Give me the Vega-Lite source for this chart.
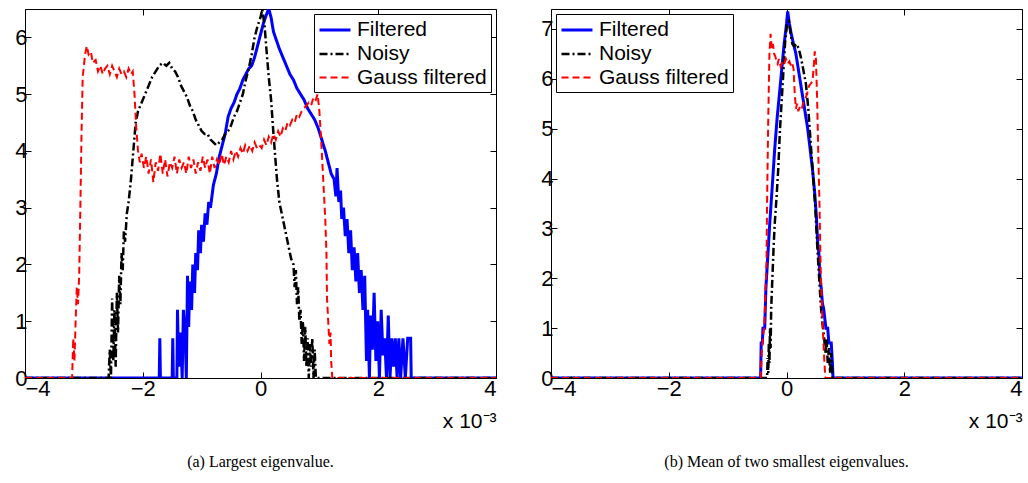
{
"$schema": "https://vega.github.io/schema/vega-lite/v6.json",
"background": "white",
"padding": {"left": 14, "top": 5, "right": 3, "bottom": 3},
"config": {
  "font": "Liberation Sans",
  "view": {"stroke": "black", "strokeWidth": 1},
  "axis": {"labelFont": "Liberation Sans", "labelFontSize": 22, "labelColor": "black", "tickColor": "black", "tickSize": -6, "domain": false, "grid": false, "titleFont": "Liberation Sans", "titleFontSize": 21, "titleFontWeight": "normal", "titleColor": "black"},
  "legend": {"labelFont": "Liberation Sans", "labelFontSize": 21, "labelColor": "black", "strokeColor": "black", "fillColor": "white", "padding": 4, "rowPadding": 2, "symbolType": "M-1,0H1.95", "symbolSize": 441, "symbolStrokeWidth": 2, "labelOffset": 15, "offset": 5, "title": null},
  "title": {"font": "Liberation Serif", "fontSize": 16, "fontWeight": "normal", "color": "black", "orient": "bottom", "offset": 23}
},
"datasets": {
"a": [
{"s":"Filtered","x":-4,"y":0},{"s":"Filtered","x":-1.72,"y":0},{"s":"Filtered","x":-1.71,"y":0.7},{"s":"Filtered","x":-1.7,"y":0},{"s":"Filtered","x":-1.5,"y":0},{"s":"Filtered","x":-1.49,"y":0.7},{"s":"Filtered","x":-1.48,"y":0},{"s":"Filtered","x":-1.42,"y":0},{"s":"Filtered","x":-1.41,"y":1.2},{"s":"Filtered","x":-1.39,"y":0.2},{"s":"Filtered","x":-1.36,"y":0.8},{"s":"Filtered","x":-1.33,"y":0},{"s":"Filtered","x":-1.31,"y":1.2},{"s":"Filtered","x":-1.28,"y":0.8},{"s":"Filtered","x":-1.26,"y":0},{"s":"Filtered","x":-1.24,"y":1.8},{"s":"Filtered","x":-1.22,"y":0.9},{"s":"Filtered","x":-1.2,"y":1.7},{"s":"Filtered","x":-1.17,"y":1.2},{"s":"Filtered","x":-1.15,"y":2.0},{"s":"Filtered","x":-1.12,"y":1.5},{"s":"Filtered","x":-1.1,"y":2.2},{"s":"Filtered","x":-1.07,"y":1.9},{"s":"Filtered","x":-1.05,"y":2.6},{"s":"Filtered","x":-1.02,"y":2.2},{"s":"Filtered","x":-1.0,"y":2.7},{"s":"Filtered","x":-0.97,"y":2.4},{"s":"Filtered","x":-0.94,"y":2.9},{"s":"Filtered","x":-0.91,"y":2.7},{"s":"Filtered","x":-0.88,"y":3.1},{"s":"Filtered","x":-0.85,"y":3.0},{"s":"Filtered","x":-0.8,"y":3.4},{"s":"Filtered","x":-0.75,"y":3.6},{"s":"Filtered","x":-0.7,"y":3.9},{"s":"Filtered","x":-0.65,"y":4.1},{"s":"Filtered","x":-0.6,"y":4.3},{"s":"Filtered","x":-0.55,"y":4.6},{"s":"Filtered","x":-0.5,"y":4.75},{"s":"Filtered","x":-0.45,"y":4.85},{"s":"Filtered","x":-0.4,"y":5.0},{"s":"Filtered","x":-0.35,"y":5.1},{"s":"Filtered","x":-0.3,"y":5.25},{"s":"Filtered","x":-0.25,"y":5.35},{"s":"Filtered","x":-0.2,"y":5.45},{"s":"Filtered","x":-0.15,"y":5.5},{"s":"Filtered","x":-0.1,"y":5.65},{"s":"Filtered","x":-0.05,"y":5.85},{"s":"Filtered","x":0.0,"y":6.05},{"s":"Filtered","x":0.05,"y":6.25},{"s":"Filtered","x":0.1,"y":6.4},{"s":"Filtered","x":0.14,"y":6.5},{"s":"Filtered","x":0.18,"y":6.35},{"s":"Filtered","x":0.22,"y":6.1},{"s":"Filtered","x":0.27,"y":5.95},{"s":"Filtered","x":0.32,"y":5.8},{"s":"Filtered","x":0.38,"y":5.65},{"s":"Filtered","x":0.44,"y":5.5},{"s":"Filtered","x":0.5,"y":5.35},{"s":"Filtered","x":0.56,"y":5.25},{"s":"Filtered","x":0.62,"y":5.1},{"s":"Filtered","x":0.68,"y":5.0},{"s":"Filtered","x":0.74,"y":4.9},{"s":"Filtered","x":0.8,"y":4.75},{"s":"Filtered","x":0.86,"y":4.65},{"s":"Filtered","x":0.92,"y":4.55},{"s":"Filtered","x":0.98,"y":4.4},{"s":"Filtered","x":1.04,"y":4.2},{"s":"Filtered","x":1.1,"y":4.0},{"s":"Filtered","x":1.15,"y":3.8},{"s":"Filtered","x":1.2,"y":3.6},{"s":"Filtered","x":1.25,"y":3.5},{"s":"Filtered","x":1.28,"y":3.2},{"s":"Filtered","x":1.3,"y":3.7},{"s":"Filtered","x":1.33,"y":3.1},{"s":"Filtered","x":1.36,"y":3.3},{"s":"Filtered","x":1.38,"y":2.8},{"s":"Filtered","x":1.41,"y":3.0},{"s":"Filtered","x":1.44,"y":2.5},{"s":"Filtered","x":1.47,"y":2.8},{"s":"Filtered","x":1.5,"y":2.2},{"s":"Filtered","x":1.53,"y":2.6},{"s":"Filtered","x":1.56,"y":1.9},{"s":"Filtered","x":1.59,"y":2.3},{"s":"Filtered","x":1.62,"y":1.7},{"s":"Filtered","x":1.65,"y":2.2},{"s":"Filtered","x":1.68,"y":1.5},{"s":"Filtered","x":1.71,"y":1.9},{"s":"Filtered","x":1.74,"y":1.2},{"s":"Filtered","x":1.77,"y":1.8},{"s":"Filtered","x":1.8,"y":0.3},{"s":"Filtered","x":1.82,"y":1.2},{"s":"Filtered","x":1.85,"y":0},{"s":"Filtered","x":1.87,"y":1.1},{"s":"Filtered","x":1.9,"y":0.5},{"s":"Filtered","x":1.93,"y":1.5},{"s":"Filtered","x":1.96,"y":0.3},{"s":"Filtered","x":1.99,"y":1.0},{"s":"Filtered","x":2.02,"y":0},{"s":"Filtered","x":2.05,"y":1.2},{"s":"Filtered","x":2.08,"y":0.4},{"s":"Filtered","x":2.11,"y":0.7},{"s":"Filtered","x":2.14,"y":0},{"s":"Filtered","x":2.17,"y":1.1},{"s":"Filtered","x":2.2,"y":0},{"s":"Filtered","x":2.23,"y":0.7},{"s":"Filtered","x":2.26,"y":0.2},{"s":"Filtered","x":2.29,"y":0.7},{"s":"Filtered","x":2.32,"y":0},{"s":"Filtered","x":2.35,"y":0.7},{"s":"Filtered","x":2.38,"y":0},{"s":"Filtered","x":2.42,"y":0.7},{"s":"Filtered","x":2.46,"y":0},{"s":"Filtered","x":2.5,"y":0.7},{"s":"Filtered","x":2.55,"y":0.7},{"s":"Filtered","x":2.56,"y":0},{"s":"Filtered","x":4,"y":0},
{"s":"Noisy","x":-4,"y":0},{"s":"Noisy","x":-2.58,"y":0},{"s":"Noisy","x":-2.56,"y":0.5},{"s":"Noisy","x":-2.54,"y":0},{"s":"Noisy","x":-2.52,"y":1.4},{"s":"Noisy","x":-2.5,"y":0.3},{"s":"Noisy","x":-2.48,"y":1.2},{"s":"Noisy","x":-2.46,"y":0.2},{"s":"Noisy","x":-2.44,"y":1.5},{"s":"Noisy","x":-2.42,"y":0.8},{"s":"Noisy","x":-2.4,"y":1.8},{"s":"Noisy","x":-2.38,"y":1.3},{"s":"Noisy","x":-2.36,"y":2.2},{"s":"Noisy","x":-2.34,"y":1.9},{"s":"Noisy","x":-2.32,"y":2.6},{"s":"Noisy","x":-2.3,"y":2.4},{"s":"Noisy","x":-2.27,"y":2.9},{"s":"Noisy","x":-2.24,"y":3.1},{"s":"Noisy","x":-2.2,"y":3.5},{"s":"Noisy","x":-2.16,"y":4.0},{"s":"Noisy","x":-2.12,"y":4.5},{"s":"Noisy","x":-2.08,"y":4.7},{"s":"Noisy","x":-2.02,"y":4.85},{"s":"Noisy","x":-1.96,"y":5.0},{"s":"Noisy","x":-1.9,"y":5.15},{"s":"Noisy","x":-1.84,"y":5.3},{"s":"Noisy","x":-1.78,"y":5.4},{"s":"Noisy","x":-1.72,"y":5.5},{"s":"Noisy","x":-1.66,"y":5.55},{"s":"Noisy","x":-1.6,"y":5.5},{"s":"Noisy","x":-1.55,"y":5.55},{"s":"Noisy","x":-1.5,"y":5.45},{"s":"Noisy","x":-1.45,"y":5.4},{"s":"Noisy","x":-1.4,"y":5.3},{"s":"Noisy","x":-1.35,"y":5.15},{"s":"Noisy","x":-1.3,"y":5.05},{"s":"Noisy","x":-1.25,"y":4.95},{"s":"Noisy","x":-1.2,"y":4.8},{"s":"Noisy","x":-1.15,"y":4.7},{"s":"Noisy","x":-1.1,"y":4.55},{"s":"Noisy","x":-1.05,"y":4.45},{"s":"Noisy","x":-1.0,"y":4.35},{"s":"Noisy","x":-0.95,"y":4.3},{"s":"Noisy","x":-0.9,"y":4.3},{"s":"Noisy","x":-0.85,"y":4.2},{"s":"Noisy","x":-0.8,"y":4.15},{"s":"Noisy","x":-0.75,"y":4.1},{"s":"Noisy","x":-0.7,"y":4.15},{"s":"Noisy","x":-0.65,"y":4.2},{"s":"Noisy","x":-0.6,"y":4.3},{"s":"Noisy","x":-0.55,"y":4.35},{"s":"Noisy","x":-0.5,"y":4.45},{"s":"Noisy","x":-0.45,"y":4.6},{"s":"Noisy","x":-0.4,"y":4.7},{"s":"Noisy","x":-0.35,"y":4.85},{"s":"Noisy","x":-0.3,"y":5.0},{"s":"Noisy","x":-0.25,"y":5.25},{"s":"Noisy","x":-0.2,"y":5.45},{"s":"Noisy","x":-0.15,"y":5.7},{"s":"Noisy","x":-0.1,"y":6.0},{"s":"Noisy","x":-0.05,"y":6.2},{"s":"Noisy","x":0.0,"y":6.35},{"s":"Noisy","x":0.03,"y":6.5},{"s":"Noisy","x":0.07,"y":6.2},{"s":"Noisy","x":0.1,"y":5.8},{"s":"Noisy","x":0.14,"y":5.3},{"s":"Noisy","x":0.18,"y":4.9},{"s":"Noisy","x":0.22,"y":4.3},{"s":"Noisy","x":0.25,"y":3.9},{"s":"Noisy","x":0.28,"y":3.5},{"s":"Noisy","x":0.32,"y":3.1},{"s":"Noisy","x":0.36,"y":2.9},{"s":"Noisy","x":0.4,"y":2.7},{"s":"Noisy","x":0.44,"y":2.5},{"s":"Noisy","x":0.48,"y":2.3},{"s":"Noisy","x":0.52,"y":2.1},{"s":"Noisy","x":0.56,"y":2.0},{"s":"Noisy","x":0.58,"y":1.6},{"s":"Noisy","x":0.6,"y":1.9},{"s":"Noisy","x":0.62,"y":1.3},{"s":"Noisy","x":0.64,"y":1.6},{"s":"Noisy","x":0.66,"y":1.0},{"s":"Noisy","x":0.68,"y":1.2},{"s":"Noisy","x":0.7,"y":0.6},{"s":"Noisy","x":0.72,"y":1.0},{"s":"Noisy","x":0.74,"y":0.3},{"s":"Noisy","x":0.76,"y":0.9},{"s":"Noisy","x":0.78,"y":0.2},{"s":"Noisy","x":0.8,"y":0.7},{"s":"Noisy","x":0.82,"y":0},{"s":"Noisy","x":0.84,"y":0.6},{"s":"Noisy","x":0.86,"y":0.2},{"s":"Noisy","x":0.88,"y":0.7},{"s":"Noisy","x":0.9,"y":0},{"s":"Noisy","x":0.92,"y":0.5},{"s":"Noisy","x":0.94,"y":0},{"s":"Noisy","x":4,"y":0},
{"s":"Gauss filtered","x":-4,"y":0},{"s":"Gauss filtered","x":-3.2,"y":0},{"s":"Gauss filtered","x":-3.18,"y":0.7},{"s":"Gauss filtered","x":-3.16,"y":0.3},{"s":"Gauss filtered","x":-3.14,"y":1.0},{"s":"Gauss filtered","x":-3.12,"y":1.6},{"s":"Gauss filtered","x":-3.1,"y":1.3},{"s":"Gauss filtered","x":-3.08,"y":1.8},{"s":"Gauss filtered","x":-3.06,"y":3.0},{"s":"Gauss filtered","x":-3.04,"y":4.3},{"s":"Gauss filtered","x":-3.02,"y":5.3},{"s":"Gauss filtered","x":-2.98,"y":5.7},{"s":"Gauss filtered","x":-2.95,"y":5.85},{"s":"Gauss filtered","x":-2.92,"y":5.7},{"s":"Gauss filtered","x":-2.88,"y":5.75},{"s":"Gauss filtered","x":-2.85,"y":5.55},{"s":"Gauss filtered","x":-2.8,"y":5.6},{"s":"Gauss filtered","x":-2.76,"y":5.4},{"s":"Gauss filtered","x":-2.72,"y":5.5},{"s":"Gauss filtered","x":-2.68,"y":5.35},{"s":"Gauss filtered","x":-2.64,"y":5.45},{"s":"Gauss filtered","x":-2.6,"y":5.5},{"s":"Gauss filtered","x":-2.56,"y":5.35},{"s":"Gauss filtered","x":-2.52,"y":5.5},{"s":"Gauss filtered","x":-2.48,"y":5.4},{"s":"Gauss filtered","x":-2.44,"y":5.3},{"s":"Gauss filtered","x":-2.4,"y":5.45},{"s":"Gauss filtered","x":-2.36,"y":5.35},{"s":"Gauss filtered","x":-2.32,"y":5.4},{"s":"Gauss filtered","x":-2.28,"y":5.3},{"s":"Gauss filtered","x":-2.24,"y":5.45},{"s":"Gauss filtered","x":-2.2,"y":5.35},{"s":"Gauss filtered","x":-2.17,"y":5.4},{"s":"Gauss filtered","x":-2.14,"y":5.0},{"s":"Gauss filtered","x":-2.11,"y":4.4},{"s":"Gauss filtered","x":-2.08,"y":4.0},{"s":"Gauss filtered","x":-2.05,"y":3.8},{"s":"Gauss filtered","x":-2.02,"y":3.95},{"s":"Gauss filtered","x":-1.98,"y":3.7},{"s":"Gauss filtered","x":-1.94,"y":3.9},{"s":"Gauss filtered","x":-1.9,"y":3.6},{"s":"Gauss filtered","x":-1.86,"y":3.85},{"s":"Gauss filtered","x":-1.82,"y":3.45},{"s":"Gauss filtered","x":-1.78,"y":3.8},{"s":"Gauss filtered","x":-1.74,"y":3.65},{"s":"Gauss filtered","x":-1.7,"y":3.95},{"s":"Gauss filtered","x":-1.66,"y":3.6},{"s":"Gauss filtered","x":-1.62,"y":3.85},{"s":"Gauss filtered","x":-1.58,"y":3.55},{"s":"Gauss filtered","x":-1.54,"y":3.8},{"s":"Gauss filtered","x":-1.5,"y":3.7},{"s":"Gauss filtered","x":-1.46,"y":3.9},{"s":"Gauss filtered","x":-1.42,"y":3.6},{"s":"Gauss filtered","x":-1.38,"y":3.85},{"s":"Gauss filtered","x":-1.34,"y":3.7},{"s":"Gauss filtered","x":-1.3,"y":3.8},{"s":"Gauss filtered","x":-1.26,"y":3.6},{"s":"Gauss filtered","x":-1.22,"y":3.9},{"s":"Gauss filtered","x":-1.18,"y":3.7},{"s":"Gauss filtered","x":-1.14,"y":3.85},{"s":"Gauss filtered","x":-1.1,"y":3.6},{"s":"Gauss filtered","x":-1.06,"y":3.8},{"s":"Gauss filtered","x":-1.02,"y":3.65},{"s":"Gauss filtered","x":-0.98,"y":3.9},{"s":"Gauss filtered","x":-0.94,"y":3.7},{"s":"Gauss filtered","x":-0.9,"y":3.85},{"s":"Gauss filtered","x":-0.86,"y":3.6},{"s":"Gauss filtered","x":-0.82,"y":3.9},{"s":"Gauss filtered","x":-0.78,"y":3.7},{"s":"Gauss filtered","x":-0.74,"y":3.85},{"s":"Gauss filtered","x":-0.7,"y":3.75},{"s":"Gauss filtered","x":-0.66,"y":3.95},{"s":"Gauss filtered","x":-0.62,"y":3.75},{"s":"Gauss filtered","x":-0.58,"y":3.9},{"s":"Gauss filtered","x":-0.54,"y":3.8},{"s":"Gauss filtered","x":-0.5,"y":4.0},{"s":"Gauss filtered","x":-0.46,"y":3.85},{"s":"Gauss filtered","x":-0.42,"y":4.0},{"s":"Gauss filtered","x":-0.38,"y":3.9},{"s":"Gauss filtered","x":-0.34,"y":4.05},{"s":"Gauss filtered","x":-0.3,"y":3.95},{"s":"Gauss filtered","x":-0.26,"y":4.1},{"s":"Gauss filtered","x":-0.22,"y":4.0},{"s":"Gauss filtered","x":-0.18,"y":4.1},{"s":"Gauss filtered","x":-0.14,"y":4.0},{"s":"Gauss filtered","x":-0.1,"y":4.15},{"s":"Gauss filtered","x":-0.06,"y":4.05},{"s":"Gauss filtered","x":-0.02,"y":4.1},{"s":"Gauss filtered","x":0.02,"y":4.05},{"s":"Gauss filtered","x":0.06,"y":4.2},{"s":"Gauss filtered","x":0.1,"y":4.1},{"s":"Gauss filtered","x":0.14,"y":4.25},{"s":"Gauss filtered","x":0.18,"y":4.15},{"s":"Gauss filtered","x":0.22,"y":4.3},{"s":"Gauss filtered","x":0.26,"y":4.2},{"s":"Gauss filtered","x":0.3,"y":4.35},{"s":"Gauss filtered","x":0.34,"y":4.25},{"s":"Gauss filtered","x":0.38,"y":4.4},{"s":"Gauss filtered","x":0.42,"y":4.35},{"s":"Gauss filtered","x":0.46,"y":4.5},{"s":"Gauss filtered","x":0.5,"y":4.45},{"s":"Gauss filtered","x":0.54,"y":4.55},{"s":"Gauss filtered","x":0.58,"y":4.5},{"s":"Gauss filtered","x":0.62,"y":4.65},{"s":"Gauss filtered","x":0.66,"y":4.6},{"s":"Gauss filtered","x":0.7,"y":4.7},{"s":"Gauss filtered","x":0.74,"y":4.75},{"s":"Gauss filtered","x":0.78,"y":4.8},{"s":"Gauss filtered","x":0.82,"y":4.85},{"s":"Gauss filtered","x":0.86,"y":4.8},{"s":"Gauss filtered","x":0.9,"y":4.95},{"s":"Gauss filtered","x":0.94,"y":4.9},{"s":"Gauss filtered","x":0.97,"y":5.0},{"s":"Gauss filtered","x":1.0,"y":4.7},{"s":"Gauss filtered","x":1.03,"y":4.2},{"s":"Gauss filtered","x":1.06,"y":3.6},{"s":"Gauss filtered","x":1.08,"y":3.2},{"s":"Gauss filtered","x":1.1,"y":2.8},{"s":"Gauss filtered","x":1.12,"y":2.2},{"s":"Gauss filtered","x":1.13,"y":1.4},{"s":"Gauss filtered","x":1.15,"y":1.0},{"s":"Gauss filtered","x":1.17,"y":0.6},{"s":"Gauss filtered","x":1.19,"y":0.8},{"s":"Gauss filtered","x":1.2,"y":0.3},{"s":"Gauss filtered","x":1.22,"y":0},{"s":"Gauss filtered","x":4,"y":0}
],
"b": [
{"s":"Filtered","x":-4,"y":0},{"s":"Filtered","x":-0.44,"y":0},{"s":"Filtered","x":-0.43,"y":0.7},{"s":"Filtered","x":-0.41,"y":0.7},{"s":"Filtered","x":-0.4,"y":1.0},{"s":"Filtered","x":-0.37,"y":1.0},{"s":"Filtered","x":-0.35,"y":1.8},{"s":"Filtered","x":-0.32,"y":2.4},{"s":"Filtered","x":-0.29,"y":3.0},{"s":"Filtered","x":-0.25,"y":3.7},{"s":"Filtered","x":-0.2,"y":4.6},{"s":"Filtered","x":-0.16,"y":5.2},{"s":"Filtered","x":-0.12,"y":5.7},{"s":"Filtered","x":-0.08,"y":6.2},{"s":"Filtered","x":-0.04,"y":6.7},{"s":"Filtered","x":0.0,"y":7.1},{"s":"Filtered","x":0.02,"y":7.35},{"s":"Filtered","x":0.05,"y":7.1},{"s":"Filtered","x":0.08,"y":6.9},{"s":"Filtered","x":0.12,"y":6.7},{"s":"Filtered","x":0.16,"y":6.5},{"s":"Filtered","x":0.2,"y":6.2},{"s":"Filtered","x":0.24,"y":5.9},{"s":"Filtered","x":0.28,"y":5.6},{"s":"Filtered","x":0.32,"y":5.3},{"s":"Filtered","x":0.36,"y":5.0},{"s":"Filtered","x":0.4,"y":4.6},{"s":"Filtered","x":0.44,"y":4.2},{"s":"Filtered","x":0.48,"y":3.7},{"s":"Filtered","x":0.51,"y":3.2},{"s":"Filtered","x":0.53,"y":2.7},{"s":"Filtered","x":0.55,"y":2.5},{"s":"Filtered","x":0.57,"y":2.0},{"s":"Filtered","x":0.59,"y":1.8},{"s":"Filtered","x":0.61,"y":1.5},{"s":"Filtered","x":0.63,"y":1.4},{"s":"Filtered","x":0.65,"y":1.2},{"s":"Filtered","x":0.67,"y":1.0},{"s":"Filtered","x":0.7,"y":1.0},{"s":"Filtered","x":0.72,"y":0.7},{"s":"Filtered","x":0.76,"y":0.7},{"s":"Filtered","x":0.78,"y":0.3},{"s":"Filtered","x":0.79,"y":0},{"s":"Filtered","x":4,"y":0},
{"s":"Noisy","x":-4,"y":0},{"s":"Noisy","x":-0.33,"y":0},{"s":"Noisy","x":-0.32,"y":0.4},{"s":"Noisy","x":-0.31,"y":0.1},{"s":"Noisy","x":-0.3,"y":0.7},{"s":"Noisy","x":-0.29,"y":0.3},{"s":"Noisy","x":-0.28,"y":1.0},{"s":"Noisy","x":-0.27,"y":0.6},{"s":"Noisy","x":-0.26,"y":1.4},{"s":"Noisy","x":-0.24,"y":2.0},{"s":"Noisy","x":-0.22,"y":2.6},{"s":"Noisy","x":-0.2,"y":3.1},{"s":"Noisy","x":-0.17,"y":3.6},{"s":"Noisy","x":-0.14,"y":4.2},{"s":"Noisy","x":-0.11,"y":5.0},{"s":"Noisy","x":-0.08,"y":5.6},{"s":"Noisy","x":-0.05,"y":6.2},{"s":"Noisy","x":-0.02,"y":6.8},{"s":"Noisy","x":0.01,"y":7.1},{"s":"Noisy","x":0.04,"y":7.15},{"s":"Noisy","x":0.07,"y":6.9},{"s":"Noisy","x":0.1,"y":6.7},{"s":"Noisy","x":0.13,"y":6.65},{"s":"Noisy","x":0.17,"y":6.7},{"s":"Noisy","x":0.21,"y":6.6},{"s":"Noisy","x":0.25,"y":6.4},{"s":"Noisy","x":0.29,"y":6.15},{"s":"Noisy","x":0.33,"y":5.9},{"s":"Noisy","x":0.37,"y":5.4},{"s":"Noisy","x":0.4,"y":4.9},{"s":"Noisy","x":0.43,"y":4.4},{"s":"Noisy","x":0.46,"y":3.9},{"s":"Noisy","x":0.49,"y":3.4},{"s":"Noisy","x":0.52,"y":2.7},{"s":"Noisy","x":0.55,"y":2.1},{"s":"Noisy","x":0.58,"y":1.5},{"s":"Noisy","x":0.61,"y":1.1},{"s":"Noisy","x":0.64,"y":0.8},{"s":"Noisy","x":0.66,"y":0.5},{"s":"Noisy","x":0.68,"y":0.8},{"s":"Noisy","x":0.7,"y":0.3},{"s":"Noisy","x":0.72,"y":0.6},{"s":"Noisy","x":0.74,"y":0.1},{"s":"Noisy","x":0.76,"y":0.5},{"s":"Noisy","x":0.78,"y":0},{"s":"Noisy","x":4,"y":0},
{"s":"Gauss filtered","x":-4,"y":0},{"s":"Gauss filtered","x":-0.44,"y":0},{"s":"Gauss filtered","x":-0.42,"y":0.5},{"s":"Gauss filtered","x":-0.4,"y":0.8},{"s":"Gauss filtered","x":-0.38,"y":1.0},{"s":"Gauss filtered","x":-0.36,"y":1.6},{"s":"Gauss filtered","x":-0.34,"y":2.3},{"s":"Gauss filtered","x":-0.33,"y":3.5},{"s":"Gauss filtered","x":-0.31,"y":5.2},{"s":"Gauss filtered","x":-0.29,"y":6.5},{"s":"Gauss filtered","x":-0.27,"y":6.9},{"s":"Gauss filtered","x":-0.25,"y":6.6},{"s":"Gauss filtered","x":-0.23,"y":6.7},{"s":"Gauss filtered","x":-0.21,"y":6.5},{"s":"Gauss filtered","x":-0.19,"y":6.45},{"s":"Gauss filtered","x":-0.17,"y":6.35},{"s":"Gauss filtered","x":-0.15,"y":6.3},{"s":"Gauss filtered","x":-0.13,"y":6.4},{"s":"Gauss filtered","x":-0.1,"y":6.25},{"s":"Gauss filtered","x":-0.07,"y":6.35},{"s":"Gauss filtered","x":-0.04,"y":6.3},{"s":"Gauss filtered","x":-0.01,"y":6.4},{"s":"Gauss filtered","x":0.02,"y":6.3},{"s":"Gauss filtered","x":0.05,"y":6.35},{"s":"Gauss filtered","x":0.08,"y":6.25},{"s":"Gauss filtered","x":0.1,"y":6.3},{"s":"Gauss filtered","x":0.12,"y":6.2},{"s":"Gauss filtered","x":0.14,"y":5.7},{"s":"Gauss filtered","x":0.16,"y":5.4},{"s":"Gauss filtered","x":0.18,"y":5.5},{"s":"Gauss filtered","x":0.2,"y":5.35},{"s":"Gauss filtered","x":0.23,"y":5.45},{"s":"Gauss filtered","x":0.26,"y":5.4},{"s":"Gauss filtered","x":0.29,"y":5.55},{"s":"Gauss filtered","x":0.32,"y":5.6},{"s":"Gauss filtered","x":0.35,"y":5.7},{"s":"Gauss filtered","x":0.38,"y":5.85},{"s":"Gauss filtered","x":0.41,"y":5.9},{"s":"Gauss filtered","x":0.44,"y":5.95},{"s":"Gauss filtered","x":0.46,"y":6.2},{"s":"Gauss filtered","x":0.48,"y":6.55},{"s":"Gauss filtered","x":0.5,"y":6.4},{"s":"Gauss filtered","x":0.52,"y":5.6},{"s":"Gauss filtered","x":0.54,"y":4.5},{"s":"Gauss filtered","x":0.56,"y":3.5},{"s":"Gauss filtered","x":0.58,"y":2.2},{"s":"Gauss filtered","x":0.6,"y":1.5},{"s":"Gauss filtered","x":0.62,"y":0.9},{"s":"Gauss filtered","x":0.64,"y":0.4},{"s":"Gauss filtered","x":0.66,"y":0},{"s":"Gauss filtered","x":4,"y":0}
]
},
"spacing": 40,
"hconcat": [
{
  "width": 471, "height": 369,
  "title": {"text": "(a) Largest eigenvalue."},
  "data": {"name": "a"},
  "resolve": {"axis": {"x": "independent", "y": "independent"}},
  "layer": [
    {
      "mark": {"type": "line", "clip": true},
      "encoding": {
        "x": {"field": "x", "type": "quantitative", "scale": {"domain": [-4, 4], "nice": false, "zero": false}, "axis": {"values": [-4, -2, 0, 2, 4], "labelPadding": 6, "title": "x 10⁻³", "titleAnchor": "end", "titlePadding": 11}},
        "y": {"field": "y", "type": "quantitative", "scale": {"domain": [0, 6.5], "nice": false}, "axis": {"values": [0, 1, 2, 3, 4, 5, 6], "labelPadding": 4, "title": null}},
        "color": {"field": "s", "type": "nominal", "scale": {"domain": ["Filtered", "Noisy", "Gauss filtered"], "range": ["#0000ff", "#000000", "#ff0000"]}, "legend": {"orient": "top-right"}},
        "strokeDash": {"field": "s", "type": "nominal", "scale": {"domain": ["Filtered", "Noisy", "Gauss filtered"], "range": [[1, 0], [8, 3, 2, 3], [7, 4]]}, "legend": {"orient": "top-right"}},
        "strokeWidth": {"field": "s", "type": "nominal", "scale": {"domain": ["Filtered", "Noisy", "Gauss filtered"], "range": [3, 2, 2.5]}, "legend": {"orient": "top-right"}}
      }
    },
    {
      "mark": {"type": "point", "opacity": 0},
      "encoding": {
        "x": {"field": "x", "type": "quantitative", "axis": {"orient": "top", "values": [-4, -2, 0, 2, 4], "labels": false, "title": null}},
        "y": {"field": "y", "type": "quantitative", "axis": {"orient": "right", "values": [0, 1, 2, 3, 4, 5, 6], "labels": false, "title": null}}
      }
    }
  ]
},
{
  "width": 471, "height": 369,
  "title": {"text": "(b) Mean of two smallest eigenvalues."},
  "data": {"name": "b"},
  "resolve": {"axis": {"x": "independent", "y": "independent"}},
  "layer": [
    {
      "mark": {"type": "line", "clip": true},
      "encoding": {
        "x": {"field": "x", "type": "quantitative", "scale": {"domain": [-4, 4], "nice": false, "zero": false}, "axis": {"values": [-4, -2, 0, 2, 4], "labelPadding": 6, "title": "x 10⁻³", "titleAnchor": "end", "titlePadding": 11}},
        "y": {"field": "y", "type": "quantitative", "scale": {"domain": [0, 7.4], "nice": false}, "axis": {"values": [0, 1, 2, 3, 4, 5, 6, 7], "labelPadding": 4, "title": null}},
        "color": {"field": "s", "type": "nominal", "scale": {"domain": ["Filtered", "Noisy", "Gauss filtered"], "range": ["#0000ff", "#000000", "#ff0000"]}, "legend": {"orient": "top-left"}},
        "strokeDash": {"field": "s", "type": "nominal", "scale": {"domain": ["Filtered", "Noisy", "Gauss filtered"], "range": [[1, 0], [8, 3, 2, 3], [7, 4]]}, "legend": {"orient": "top-left"}},
        "strokeWidth": {"field": "s", "type": "nominal", "scale": {"domain": ["Filtered", "Noisy", "Gauss filtered"], "range": [3, 2, 2.5]}, "legend": {"orient": "top-left"}}
      }
    },
    {
      "mark": {"type": "point", "opacity": 0},
      "encoding": {
        "x": {"field": "x", "type": "quantitative", "axis": {"orient": "top", "values": [-4, -2, 0, 2, 4], "labels": false, "title": null}},
        "y": {"field": "y", "type": "quantitative", "axis": {"orient": "right", "values": [0, 1, 2, 3, 4, 5, 6, 7], "labels": false, "title": null}}
      }
    }
  ]
}
],
"resolve": {"scale": {"color": "independent", "strokeDash": "independent", "strokeWidth": "independent"}, "legend": {"color": "independent", "strokeDash": "independent", "strokeWidth": "independent"}}
}
